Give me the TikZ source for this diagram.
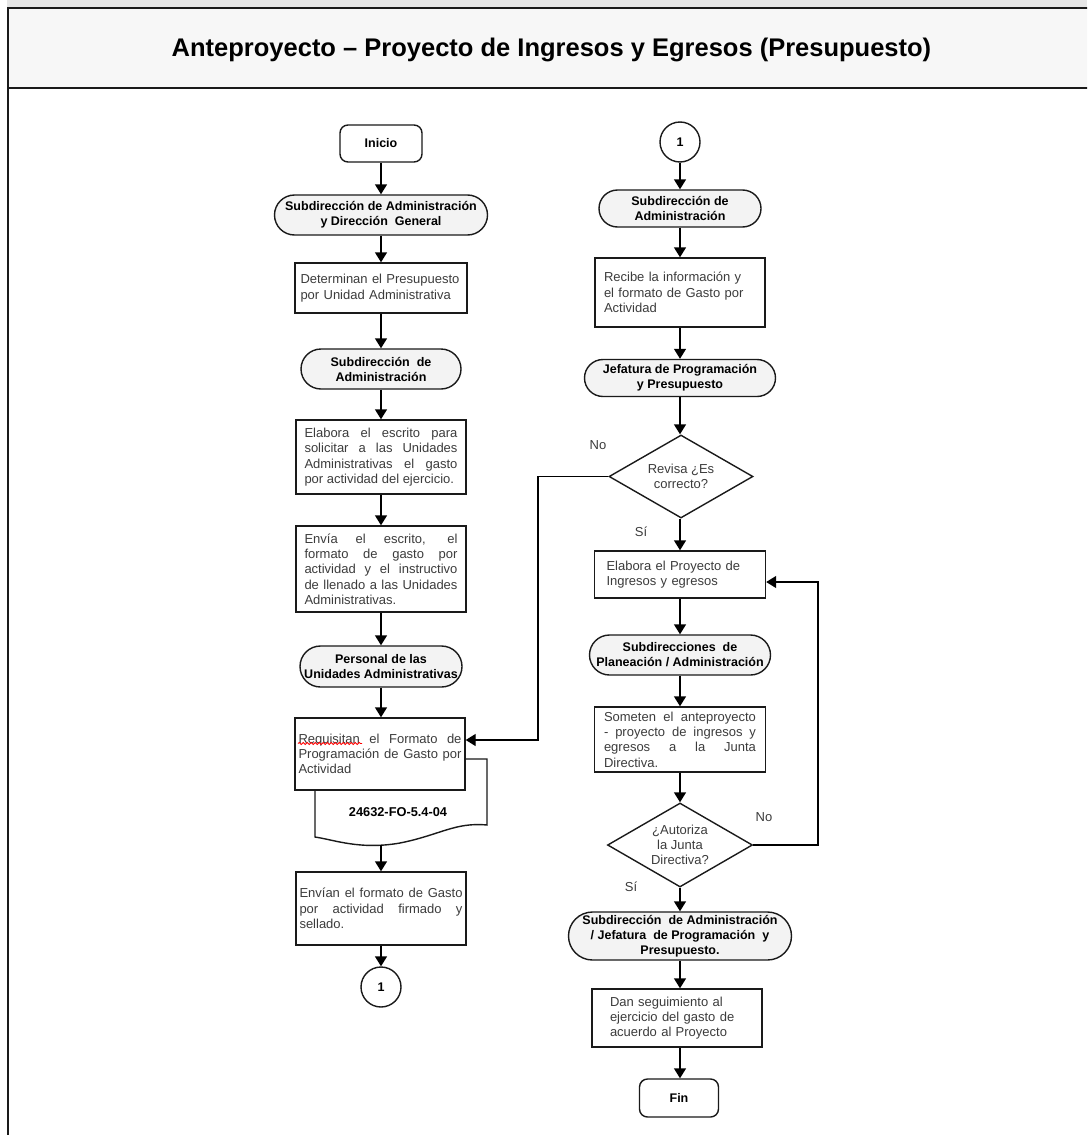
\documentclass[tikz,border=0pt]{standalone}
\usepackage{fontspec}
\setmainfont{Liberation Sans}
\usetikzlibrary{shapes.geometric,arrows.meta,decorations.pathmorphing,calc}
\definecolor{txtgray}{HTML}{3C3C3C}
\definecolor{stfill}{HTML}{F3F3F3}
\definecolor{titlefill}{HTML}{F7F7F7}
\definecolor{strip}{HTML}{E6E6E6}
\definecolor{linec}{HTML}{1A1A1A}
\tolerance=10000
\hbadness=10000
\hyphenpenalty=10000
\exhyphenpenalty=10000
\begin{document}
\begin{tikzpicture}[x=1pt,y=-1pt,
  base/.style={draw=linec, line width=1.4pt, inner sep=0pt},
  procbox/.style={base, rectangle, fill=white, text=txtgray, font=\fontsize{13}{15.3}\selectfont},
  jbox/.style={procbox, align=justify},
  lbox/.style={procbox, align=left},
  stad/.style={base, rectangle, rounded corners=#1, fill=stfill, font=\bfseries\fontsize{12.5}{15}\selectfont, align=center},
  term/.style={base, rectangle, rounded corners=8pt, fill=white, font=\bfseries\fontsize{12.5}{15}\selectfont},
  conn/.style={base, circle, fill=white, minimum size=40pt, font=\bfseries\fontsize{12.5}{15}\selectfont},
  dec/.style={base, diamond, fill=white, text=txtgray, font=\fontsize{13}{15.3}\selectfont, align=center},
  lbl/.style={text=txtgray, font=\fontsize{13}{15.3}\selectfont, inner sep=0pt},
  arr/.style={draw=black, line width=1.4pt, -{Triangle[width=12pt,length=10pt]}},
  flow/.style={draw=black, line width=1.4pt}
]
\useasboundingbox (0,0) rectangle (1087,1135);
\clip (0,0) rectangle (1087,1135);
\fill[white] (0,0) rectangle (1087,1135);
% frame
\fill[strip] (7,0) rectangle (1087,8);
\draw[line width=2pt, draw=linec, fill=titlefill] (8,8) rectangle (1100,88);
\draw[line width=2pt, draw=linec] (8,88) -- (8,1145);
\node[font=\bfseries\fontsize{25.5}{30}\selectfont, anchor=base, inner sep=0pt] (title) at (551.5,56) {Anteproyecto – Proyecto de Ingresos y Egresos (Presupuesto)};

% left column
\node[term, minimum width=82pt, minimum height=37pt] (ini) at (381,143.5) {Inicio};
\node[stad=20pt, minimum width=213pt, minimum height=40pt] (t1) at (381,215) {Subdirección de Administración\\y Dirección\ \ General};
\node[lbox, minimum width=172pt, minimum height=50pt, text width=161pt] (p1) at (381,288) {Determinan el Presupuesto\\por Unidad Administrativa};
\node[stad=20pt, minimum width=160pt, minimum height=40pt] (t2) at (381,369) {Subdirección\ \ de\\Administración};
\node[jbox, minimum width=170pt, minimum height=74pt, text width=153pt] (p2) at (381,457) {Elabora el escrito para\linebreak solicitar a las Unidades\linebreak Administrativas el gasto\linebreak por actividad del ejercicio.};
\node[jbox, minimum width=170pt, minimum height=86pt, text width=153pt] (p3) at (381,569) {Envía el escrito, el\linebreak formato de gasto por\linebreak actividad y el instructivo\linebreak de llenado a las Unidades\linebreak Administrativas.};
\node[stad=20.5pt, minimum width=162pt, minimum height=41pt] (t3) at (381,666.5) {Personal de las\\Unidades Administrativas};
% document shape
\draw[line width=1.4pt, draw=linec, fill=white] (465,759) -- (487,759) -- (487,825) .. controls (455,822) and (440,835) .. (400,843) .. controls (360,850) and (335,840) .. (315,837) -- (315,790) -- (465,790) -- cycle;
\node[jbox, minimum width=170pt, minimum height=72pt, text width=163pt] (p4) at (380,754) {Requisitan el Formato de\linebreak Programación de Gasto por\linebreak Actividad};
\draw[red, line width=0.8pt, decorate, decoration={snake, amplitude=1.1pt, segment length=4pt}] (298,743.5) -- (362,743.5);
\node[font=\bfseries\fontsize{12.8}{15}\selectfont, inner sep=0pt] (docid) at (398,812) {24632-FO-5.4-04};
\coordinate (docb) at (381,845);
\node[jbox, minimum width=170pt, minimum height=73pt, text width=163pt] (p5) at (381,908.5) {Envían el formato de Gasto\linebreak por actividad firmado y\linebreak sellado.};
\node[conn] (c1) at (381,987) {1};

% right column
\node[conn] (c2) at (680,142) {1};
\node[stad=18.5pt, minimum width=162pt, minimum height=37pt] (t4) at (680,208.5) {Subdirección de\\Administración};
\node[lbox, minimum width=170pt, minimum height=69pt, text width=152pt] (p6) at (680,292.5) {Recibe la información y\\el formato de Gasto por\\Actividad};
\node[stad=18.5pt, minimum width=191pt, minimum height=37pt] (t5) at (680,378) {Jefatura de Programación\\y Presupuesto};
\node[dec, minimum width=144pt, minimum height=83pt, aspect=1.73] (d1) at (681,476.5) {Revisa ¿Es\\correcto?};
\node[lbox, minimum width=171pt, minimum height=47pt, text width=147pt] (p7) at (680,574.5) {Elabora el Proyecto de\\Ingresos y egresos};
\node[stad=20pt, minimum width=181pt, minimum height=40pt] (t6) at (680,655) {Subdirecciones\ \ de\\Planeación / Administración};
\node[jbox, minimum width=171pt, minimum height=65pt, text width=152pt] (p8) at (680,739.5) {Someten el anteproyecto\linebreak - proyecto de ingresos y\linebreak egresos a la Junta\linebreak Directiva.};
\node[dec, minimum width=145pt, minimum height=84pt, aspect=1.73] (d2) at (680,845) {¿Autoriza\\la Junta\\Directiva?};
\node[stad=24pt, minimum width=223pt, minimum height=48pt] (t7) at (680,936) {Subdirección\ \ de Administración\\/ Jefatura\ \ de Programación\ \ y\\Presupuesto.};
\node[lbox, minimum width=170pt, minimum height=58pt, text width=134pt] (p9) at (677,1018) {Dan seguimiento al\\ejercicio del gasto de\\acuerdo al Proyecto};
\node[term, minimum width=79pt, minimum height=38pt] (fin) at (679,1098) {Fin};

% labels
\node[lbl] (no1) at (598,445) {No};
\node[lbl] (si1) at (641,532) {Sí};
\node[lbl] (no2) at (764,817) {No};
\node[lbl] (si2) at (631,887) {Sí};

% connectors left
\draw[arr] (ini.south) -- (t1.north);
\draw[arr] (t1.south) -- (p1.north);
\draw[arr] (p1.south) -- (t2.north);
\draw[arr] (t2.south) -- (p2.north);
\draw[arr] (p2.south) -- (p3.north);
\draw[arr] (p3.south) -- (t3.north);
\draw[arr] (t3.south) -- (t3.south |- p4.north);
\draw[arr] (docb) -- (docb |- p5.north);
\draw[arr] (p5.south -| c1) -- (c1.north);

% connectors right
\draw[arr] (c2.south) -- (t4.north);
\draw[arr] (t4.south) -- (p6.north);
\draw[arr] (p6.south) -- (t5.north);
\draw[arr] (t5.south) -- (t5.south |- d1.north);
\draw[arr] (d1.south -| t5.south) -- (t5.south |- p7.north);
\draw[arr] (p7.south) -- (t6.north);
\draw[arr] (t6.south) -- (p8.north);
\draw[arr] (p8.south) -- (d2.north);
\draw[arr] (d2.south) -- (t7.north);
\draw[arr] (t7.south -| d2.south) -- (d2.south |- p9.north);
\draw[arr] (d2.south |- p9.south) -- (d2.south |- fin.north);

% loops
\coordinate (nA) at (538,476.5);
\coordinate (nB) at (538,740);
\draw[arr] (d1.west) -- (nA) -- (nB) -- (nB -| p4.east);
\coordinate (yA) at (818,845);
\coordinate (yB) at (818,582);
\draw[arr] (d2.east) -- (yA) -- (yB) -- (yB -| p7.east);
\end{tikzpicture}
\end{document}
